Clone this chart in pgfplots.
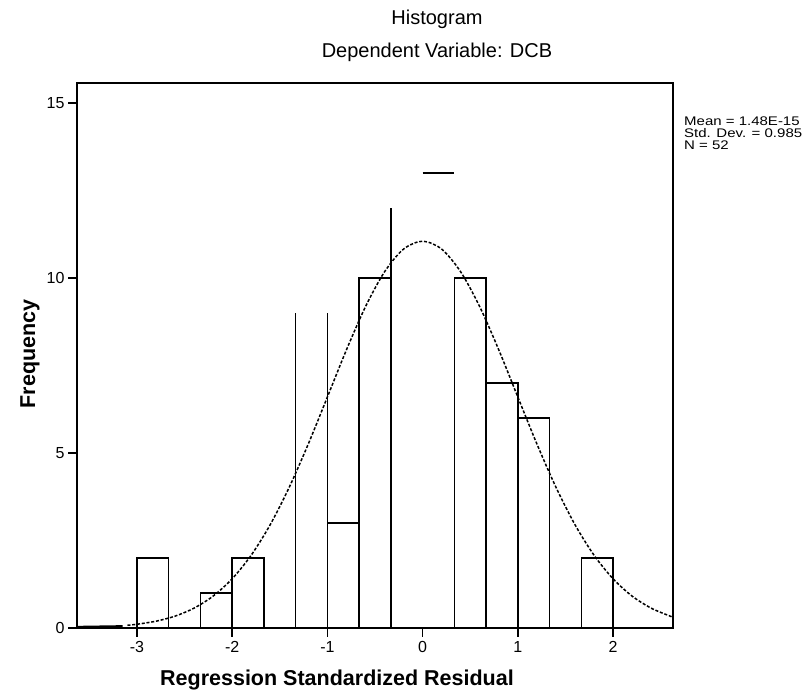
\documentclass[border=0pt]{standalone}
\usepackage{fontspec}
\setmainfont{Liberation Sans}
\newfontfamily\statfont[FakeStretch=1.2]{Liberation Sans}
\usepackage{pgfplots}
\pgfplotsset{compat=1.18}
\begin{document}
\begin{tikzpicture}[x=1pt,y=1pt]
\path[use as bounding box] (0,0) rectangle (809,698);
\begin{axis}[
  at={(77pt,70pt)}, anchor=south west,
  width=596pt, height=545pt, scale only axis,
  xmin=-3.63, xmax=2.63, ymin=0, ymax=15.57,
  xtick={-3,-2,-1,0,1,2}, xticklabels={-3,-2,-1,0,1,2},
  ytick={0,5,10,15}, yticklabels={0,5,10,15},
  xtick pos=bottom, ytick pos=left, tick align=outside,
  major tick length=9pt,
  tick style={line width=1.4pt, black},
  axis line style={line width=1.5pt},
  ticklabel style={font=\fontsize{16}{16}\selectfont},
  xticklabel style={yshift=-1pt},
  every axis plot/.append style={line join=miter},
  clip=false,
]
% bars drawn as full outlines
\addplot[black, line width=1.5pt] coordinates {(-3,0) (-3,2) (-2.6667,2) (-2.6667,0)};
\addplot[black, line width=1.5pt] coordinates {(-2.3333,0) (-2.3333,1) (-2,1) (-2,0)};
\addplot[black, line width=1.5pt] coordinates {(-2,0) (-2,2) (-1.6667,2) (-1.6667,0)};
\addplot[black, line width=1.5pt] coordinates {(-1,0) (-1,3) (-0.6667,3) (-0.6667,0)};
\addplot[black, line width=1.5pt] coordinates {(-0.6667,0) (-0.6667,10) (-0.3333,10) (-0.3333,0)};
\addplot[black, line width=1.5pt] coordinates {(0.3333,0) (0.3333,10) (0.6667,10) (0.6667,0)};
\addplot[black, line width=1.5pt] coordinates {(0.6667,0) (0.6667,7) (1,7) (1,0)};
\addplot[black, line width=1.5pt] coordinates {(1,0) (1,6) (1.3333,6) (1.3333,0)};
\addplot[black, line width=1.5pt] coordinates {(1.6667,0) (1.6667,2) (2,2) (2,0)};
% bar fragments
\addplot[black, line width=1.5pt] coordinates {(-1.3333,0) (-1.3333,9)};
\addplot[black, line width=1.5pt] coordinates {(-1,0) (-1,9)};
\addplot[black, line width=1.5pt] coordinates {(-0.3333,0) (-0.3333,12)};
\addplot[black, line width=1.5pt] coordinates {(0,13) (0.3333,13)};
\addplot[black, line width=2.2pt] coordinates {(-2,0) (-2,1)};
% normal curve
\addplot[black, line width=2.2pt] coordinates {(-3.63,0.03) (-3.15,0.05)};
\addplot[black, line width=1.5pt, dash pattern=on 3pt off 1.8pt, smooth] coordinates {
  (-3.1,0.078) (-3.0,0.107) (-2.8,0.194) (-2.6,0.339) (-2.4,0.568) (-2.2,0.912)
  (-2.0,1.407) (-1.8,2.081) (-1.6,2.954) (-1.4,4.025) (-1.2,5.261) (-1.0,6.600)
  (-0.8,7.946) (-0.6,9.179) (-0.4,10.175) (-0.2,10.825) (0,11.05)
  (0.2,10.825) (0.4,10.175) (0.6,9.179) (0.8,7.946) (1.0,6.600) (1.2,5.261)
  (1.4,4.025) (1.6,2.954) (1.8,2.081) (2.0,1.407) (2.2,0.912) (2.4,0.568)
  (2.6,0.339) (2.63,0.313)
};
\end{axis}
\node[font=\fontsize{20}{20}\selectfont] at (437,679) {Histogram};
\node[font=\fontsize{20}{20}\selectfont] at (437,646) {Dependent Variable: DCB};
\node[font=\bfseries\fontsize{21.5}{21.5}\selectfont] at (337,18) {Regression Standardized Residual};
\node[font=\bfseries\fontsize{21.5}{21.5}\selectfont, rotate=90] at (30,344) {Frequency};
\node[anchor=north west, align=left, inner sep=0pt,
  font=\statfont\fontsize{12.5}{11.7}\selectfont] at (684,581)
  {Mean = 1.48E-15\\Std. Dev. = 0.985\\N = 52};
\end{tikzpicture}
\end{document}
